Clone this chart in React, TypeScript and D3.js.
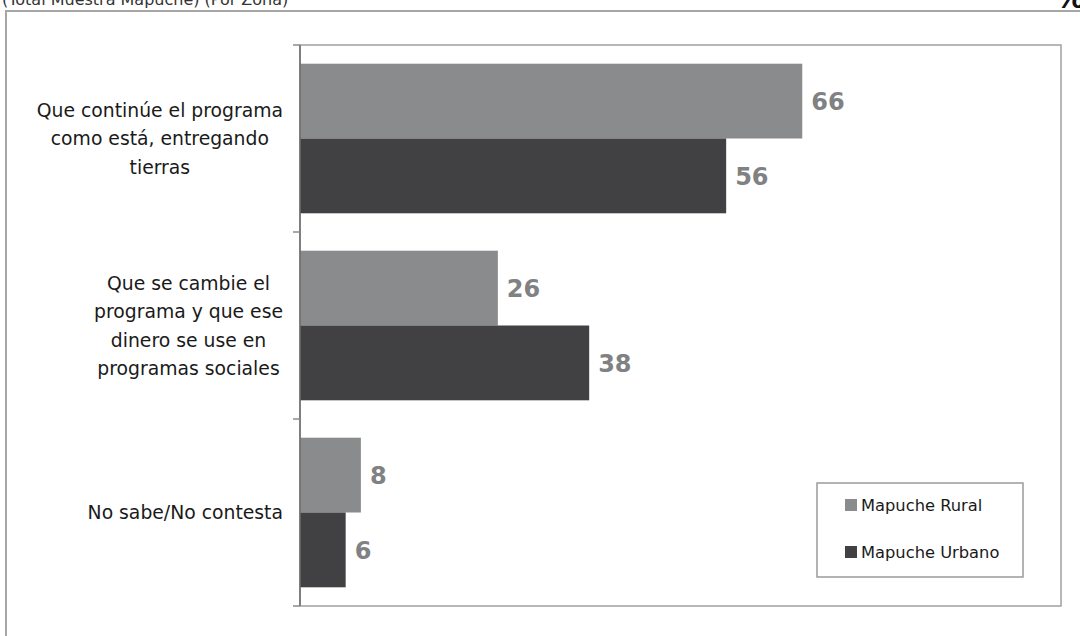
import React, { useEffect, useRef } from "react";
import * as d3 from "d3";

const categories: string[][] = [
  ["Que continúe el programa", "como está, entregando", "tierras"],
  ["Que se cambie el", "programa y que ese", "dinero se use en", "programas sociales"],
  ["No sabe/No contesta"],
];
const categoryKeys = ["c1", "c2", "c3"];
const seriesNames = ["Mapuche Rural", "Mapuche Urbano"];
const seriesColors = ["#8a8b8d", "#414042"];
const ruralValues = [66, 26, 8];
const urbanValues = [56, 38, 6];
const xDomain = [0, 100];
const titleText = "(Total Muestra Mapuche) (Por Zona)";
const unitText = "%";

export default function App() {
  const ref = useRef<SVGSVGElement>(null);

  useEffect(() => {
    const svg = d3.select(ref.current);
    svg.selectAll("*").remove();
    const W = 1080, H = 636;
    const left = 300, right = 1061, top = 45, bottom = 606;
    const font = "'DejaVu Sans', Verdana, sans-serif";

    svg.append("rect").attr("width", W).attr("height", H).attr("fill", "#ffffff");

    // title (cut off at top, as in the reference)
    svg.append("text").attr("x", 2).attr("y", 5).attr("font-family", font)
      .attr("font-size", 16).attr("fill", "#333").text(titleText);
    svg.append("text").attr("x", 1055).attr("y", 8).attr("font-family", font)
      .attr("font-size", 30).attr("font-weight", "bold").attr("fill", "#111").text(unitText);

    // outer frame
    svg.append("rect").attr("x", 6).attr("y", 11).attr("width", 1200).attr("height", 800)
      .attr("fill", "none").attr("stroke", "#a6a6a6").attr("stroke-width", 2);

    const x = d3.scaleLinear().domain(xDomain).range([left, right]);
    const y = d3.scaleBand<string>().domain(categoryKeys).range([top, bottom]).padding(0);
    const inner = d3.scaleBand<string>().domain(seriesNames).range([0, y.bandwidth()])
      .paddingInner(0).paddingOuter(0.25);

    // plot area box
    svg.append("rect").attr("x", left).attr("y", top).attr("width", right - left)
      .attr("height", bottom - top).attr("fill", "none").attr("stroke", "#a0a0a0").attr("stroke-width", 1.5);

    const data = [ruralValues, urbanValues];
    categoryKeys.forEach((k, i) => {
      seriesNames.forEach((s, j) => {
        const v = data[j][i];
        const y0 = (y(k) as number) + (inner(s) as number);
        svg.append("rect").attr("x", x(0)).attr("y", y0)
          .attr("width", x(v) - x(0)).attr("height", inner.bandwidth())
          .attr("fill", seriesColors[j]);
        svg.append("text").attr("x", x(v) + 9).attr("y", y0 + inner.bandwidth() / 2)
          .attr("dy", "0.36em").attr("font-family", font).attr("font-weight", "bold")
          .attr("font-size", 24).attr("fill", "#808183").text(String(v));
      });
    });

    // axis line and ticks
    svg.append("line").attr("x1", left).attr("x2", left).attr("y1", top).attr("y2", bottom)
      .attr("stroke", "#6d6d6d").attr("stroke-width", 1.5);
    const tickYs = [top, ...categoryKeys.map(k => (y(k) as number) + y.bandwidth())];
    tickYs.forEach(ty => {
      svg.append("line").attr("x1", left - 7).attr("x2", left).attr("y1", ty).attr("y2", ty)
        .attr("stroke", "#8a8a8a").attr("stroke-width", 1.5);
    });

    // category labels
    const lineH = 28.5;
    categoryKeys.forEach((k, i) => {
      const lines = categories[i];
      const g = svg.append("g");
      const texts = lines.map((ln, li) =>
        g.append("text").attr("font-family", font).attr("font-size", 18.8).attr("fill", "#1a1a1a")
          .attr("text-anchor", "middle")
          .attr("y", (y(k) as number) + y.bandwidth() / 2 + (li - (lines.length - 1) / 2) * lineH)
          .attr("dy", "0.36em").text(ln)
      );
      let maxW = 0;
      texts.forEach(t => { maxW = Math.max(maxW, (t.node() as SVGTextElement).getComputedTextLength()); });
      const cx = 283 - maxW / 2;
      texts.forEach(t => t.attr("x", cx));
    });

    // legend
    svg.append("rect").attr("x", 817).attr("y", 483).attr("width", 206).attr("height", 94)
      .attr("fill", "#ffffff").attr("stroke", "#9a9a9a").attr("stroke-width", 1.5);
    seriesNames.forEach((s, j) => {
      const by = 511 + j * 47;
      svg.append("rect").attr("x", 845).attr("y", by - 12).attr("width", 12).attr("height", 12)
        .attr("fill", seriesColors[j]);
      svg.append("text").attr("x", 861).attr("y", by).attr("font-family", font)
        .attr("font-size", 16.3).attr("fill", "#1a1a1a").text(s);
    });
  }, []);

  return (
    <svg ref={ref} width={1080} height={636}
      style={{ position: "absolute", left: 0, top: 0, display: "block" }} />
  );
}
